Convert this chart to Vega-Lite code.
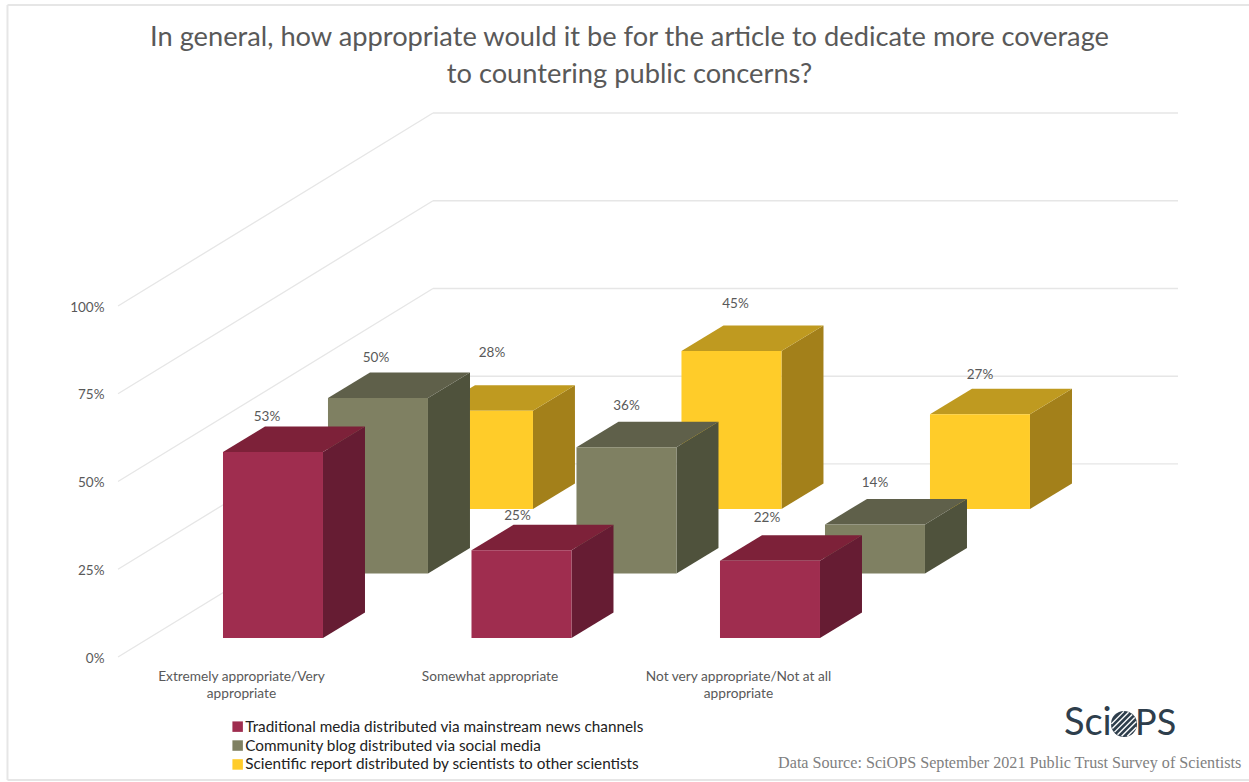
{
  "$schema": "https://vega.github.io/schema/vega-lite/v6.json",
  "width": 1139,
  "height": 562,
  "autosize": "none",
  "padding": {"left": 110, "top": 100, "right": 0, "bottom": 120},
  "background": "#ffffff",
  "title": {
    "text": ["In general, how appropriate would it be for the article to dedicate more coverage", "to countering public concerns?"],
    "font": "Lato",
    "fontSize": 27.25,
    "fontWeight": "normal",
    "color": "#595959",
    "anchor": "middle",
    "frame": "group",
    "dx": -50,
    "offset": -84,
    "lineHeight": 37
  },
  "config": {"view": {"stroke": null}},
  "data": {
    "values": [
      {"category": "Extremely appropriate/Very appropriate", "series": "Traditional media distributed via mainstream news channels", "value": 53},
      {"category": "Somewhat appropriate", "series": "Traditional media distributed via mainstream news channels", "value": 25},
      {"category": "Not very appropriate/Not at all appropriate", "series": "Traditional media distributed via mainstream news channels", "value": 22},
      {"category": "Extremely appropriate/Very appropriate", "series": "Community blog distributed via social media", "value": 50},
      {"category": "Somewhat appropriate", "series": "Community blog distributed via social media", "value": 36},
      {"category": "Not very appropriate/Not at all appropriate", "series": "Community blog distributed via social media", "value": 14},
      {"category": "Extremely appropriate/Very appropriate", "series": "Scientific report distributed by scientists to other scientists", "value": 28},
      {"category": "Somewhat appropriate", "series": "Scientific report distributed by scientists to other scientists", "value": 45},
      {"category": "Not very appropriate/Not at all appropriate", "series": "Scientific report distributed by scientists to other scientists", "value": 27}
    ]
  },
  "encoding": {
    "x": {
      "field": "gx",
      "type": "quantitative",
      "scale": {"domain": [-0.5312, 4.0523], "nice": false, "zero": false},
      "axis": {
        "title": null,
        "values": [0, 1, 2],
        "grid": false,
        "domain": false,
        "ticks": false,
        "labelFont": "Lato",
        "labelFontSize": 13.7,
        "labelColor": "#595959",
        "labelPadding": 7,
        "labelOffset": -1,
        "labelLineHeight": 17.5,
        "labelLimit": 400,
        "labelOverlap": false,
        "labelBound": false,
        "labelFlush": false,
        "labelExpr": "datum.value == 0 ? ['Extremely appropriate/Very', 'appropriate'] : datum.value == 1 ? 'Somewhat appropriate' : ['Not very appropriate/Not at all', 'appropriate']"
      }
    },
    "y": {
      "field": "gy",
      "type": "quantitative",
      "scale": {"domain": [-1.42, 158.7], "nice": false, "zero": false},
      "axis": {
        "title": null,
        "values": [0, 25, 50, 75, 100],
        "grid": false,
        "domain": false,
        "ticks": false,
        "labelFont": "Lato",
        "labelFontSize": 13.5,
        "labelColor": "#595959",
        "labelPadding": 6,
        "labelOffset": 1,
        "labelExpr": "datum.value + '%'"
      }
    }
  },
  "layer": [
    {
      "data": {"values": [{"edge": "top"}, {"edge": "bottom"}]},
      "transform": [
        {"calculate": "-0.9437", "as": "gx"},
        {"calculate": "4.0523", "as": "gx2"},
        {"calculate": "datum.edge == 'top' ? 185.75 : -35.04", "as": "gy"}
      ],
      "mark": {"type": "rule", "color": "#e6e6e6", "strokeWidth": 2},
      "encoding": {"x2": {"field": "gx2"}}
    },
    {
      "data": {"values": [{"edge": "left"}]},
      "transform": [
        {"calculate": "-0.9437", "as": "gx"},
        {"calculate": "185.75", "as": "gy"},
        {"calculate": "-35.04", "as": "gy2"}
      ],
      "mark": {"type": "rule", "color": "#e6e6e6", "strokeWidth": 2},
      "encoding": {"y2": {"field": "gy2"}}
    },
    {
      "data": {"values": [{"level": 0}, {"level": 25}, {"level": 50}, {"level": 75}, {"level": 100}]},
      "layer": [
        {
          "transform": [
            {"calculate": "-0.499", "as": "gx"},
            {"calculate": "0.7686", "as": "gx2"},
            {"calculate": "datum.level", "as": "gy"},
            {"calculate": "datum.level + 55", "as": "gy2"}
          ],
          "mark": {"type": "rule", "color": "#e6e6e6", "strokeWidth": 1.3},
          "encoding": {"x2": {"field": "gx2"}, "y2": {"field": "gy2"}}
        },
        {
          "transform": [
            {"calculate": "0.7686", "as": "gx"},
            {"calculate": "3.7666", "as": "gx2"},
            {"calculate": "datum.level + 55", "as": "gy"}
          ],
          "mark": {"type": "rule", "color": "#e6e6e6", "strokeWidth": 1.3},
          "encoding": {"x2": {"field": "gx2"}}
        }
      ]
    },
    {
      "transform": [
        {"calculate": "indexof(['Extremely appropriate/Very appropriate', 'Somewhat appropriate', 'Not very appropriate/Not at all appropriate'], datum.category)", "as": "i"},
        {"calculate": "indexof(['Traditional media distributed via mainstream news channels', 'Community blog distributed via social media', 'Scientific report distributed by scientists to other scientists'], datum.series)", "as": "d"},
        {"calculate": "datum.i - 0.0765 + 0.4225 * datum.d", "as": "xl"},
        {"calculate": "datum.xl + 0.4024", "as": "xr"},
        {"calculate": "5.41 + 18.38 * datum.d", "as": "base"},
        {"calculate": "datum.base + datum.value", "as": "top"}
      ],
      "layer": [
        {
          "transform": [{"filter": "datum.d == 2"}],
          "layer": [
            {
              "transform": [
                {"calculate": "[0, 1]", "as": "k"}, {"flatten": ["k"]},
                {"calculate": "datum.xr + datum.k * 0.169", "as": "gx"},
                {"calculate": "datum.top + datum.k * 7.26", "as": "gy"},
                {"calculate": "datum.base + datum.k * 7.26", "as": "gy2"}
              ],
              "mark": {"type": "area", "orient": "vertical", "color": "#a3801a"},
              "encoding": {"y2": {"field": "gy2"}, "detail": {"field": "category"}}
            },
            {
              "transform": [
                {"calculate": "[0, 1, 2, 3]", "as": "k"}, {"flatten": ["k"]},
                {"calculate": "[datum.xl, datum.xl + 0.169, datum.xr, datum.xr + 0.169][datum.k]", "as": "gx"},
                {"calculate": "datum.top + (datum.k > 0 ? 7.26 : 0)", "as": "gy"},
                {"calculate": "datum.top + (datum.k == 3 ? 7.26 : 0)", "as": "gy2"}
              ],
              "mark": {"type": "area", "orient": "vertical", "color": "#bf9a20"},
              "encoding": {"y2": {"field": "gy2"}, "detail": {"field": "category"}}
            },
            {
              "transform": [
                {"calculate": "datum.xl", "as": "gx"},
                {"calculate": "datum.xr", "as": "gx2"},
                {"calculate": "datum.top", "as": "gy"},
                {"calculate": "datum.base", "as": "gy2"}
              ],
              "mark": {"type": "rect"},
              "encoding": {
                "x2": {"field": "gx2"},
                "y2": {"field": "gy2"},
                "color": {
                  "field": "series",
                  "type": "nominal",
                  "scale": {
                    "domain": ["Traditional media distributed via mainstream news channels", "Community blog distributed via social media", "Scientific report distributed by scientists to other scientists"],
                    "range": ["#9f2d4f", "#7f8062", "#ffcc29"]
                  },
                  "legend": {
                    "title": null,
                    "orient": "none",
                    "legendX": 120,
                    "legendY": 619,
                    "symbolType": "square",
                    "symbolSize": 110,
                    "symbolStrokeWidth": 0,
                    "labelFont": "Lato",
                    "labelFontSize": 15.3,
                    "labelColor": "#222222",
                    "labelLimit": 600,
                    "labelOffset": 0,
                    "rowPadding": 2.9,
                    "padding": 0
                  }
                }
              }
            }
          ]
        },
        {
          "transform": [{"filter": "datum.d == 1"}],
          "layer": [
            {
              "transform": [
                {"calculate": "[0, 1]", "as": "k"}, {"flatten": ["k"]},
                {"calculate": "datum.xr + datum.k * 0.169", "as": "gx"},
                {"calculate": "datum.top + datum.k * 7.26", "as": "gy"},
                {"calculate": "datum.base + datum.k * 7.26", "as": "gy2"}
              ],
              "mark": {"type": "area", "orient": "vertical", "color": "#4f523c"},
              "encoding": {"y2": {"field": "gy2"}, "detail": {"field": "category"}}
            },
            {
              "transform": [
                {"calculate": "[0, 1, 2, 3]", "as": "k"}, {"flatten": ["k"]},
                {"calculate": "[datum.xl, datum.xl + 0.169, datum.xr, datum.xr + 0.169][datum.k]", "as": "gx"},
                {"calculate": "datum.top + (datum.k > 0 ? 7.26 : 0)", "as": "gy"},
                {"calculate": "datum.top + (datum.k == 3 ? 7.26 : 0)", "as": "gy2"}
              ],
              "mark": {"type": "area", "orient": "vertical", "color": "#5f604a"},
              "encoding": {"y2": {"field": "gy2"}, "detail": {"field": "category"}}
            },
            {
              "transform": [
                {"calculate": "datum.xl", "as": "gx"},
                {"calculate": "datum.xr", "as": "gx2"},
                {"calculate": "datum.top", "as": "gy"},
                {"calculate": "datum.base", "as": "gy2"}
              ],
              "mark": {"type": "rect"},
              "encoding": {
                "x2": {"field": "gx2"},
                "y2": {"field": "gy2"},
                "color": {"field": "series", "type": "nominal"}
              }
            }
          ]
        },
        {
          "transform": [{"filter": "datum.d == 0"}],
          "layer": [
            {
              "transform": [
                {"calculate": "[0, 1]", "as": "k"}, {"flatten": ["k"]},
                {"calculate": "datum.xr + datum.k * 0.169", "as": "gx"},
                {"calculate": "datum.top + datum.k * 7.26", "as": "gy"},
                {"calculate": "datum.base + datum.k * 7.26", "as": "gy2"}
              ],
              "mark": {"type": "area", "orient": "vertical", "color": "#661c33"},
              "encoding": {"y2": {"field": "gy2"}, "detail": {"field": "category"}}
            },
            {
              "transform": [
                {"calculate": "[0, 1, 2, 3]", "as": "k"}, {"flatten": ["k"]},
                {"calculate": "[datum.xl, datum.xl + 0.169, datum.xr, datum.xr + 0.169][datum.k]", "as": "gx"},
                {"calculate": "datum.top + (datum.k > 0 ? 7.26 : 0)", "as": "gy"},
                {"calculate": "datum.top + (datum.k == 3 ? 7.26 : 0)", "as": "gy2"}
              ],
              "mark": {"type": "area", "orient": "vertical", "color": "#7d2139"},
              "encoding": {"y2": {"field": "gy2"}, "detail": {"field": "category"}}
            },
            {
              "transform": [
                {"calculate": "datum.xl", "as": "gx"},
                {"calculate": "datum.xr", "as": "gx2"},
                {"calculate": "datum.top", "as": "gy"},
                {"calculate": "datum.base", "as": "gy2"}
              ],
              "mark": {"type": "rect"},
              "encoding": {
                "x2": {"field": "gx2"},
                "y2": {"field": "gy2"},
                "color": {"field": "series", "type": "nominal"}
              }
            }
          ]
        },
        {
          "transform": [
            {"calculate": "[-6, -4, -3, -2, 0, 0, 9, 4, 0][datum.d * 3 + datum.i]", "as": "nudge"},
            {"calculate": "[35, 34, 43, 40, 41, 41, 58, 47, 39][datum.d * 3 + datum.i]", "as": "lift"},
            {"calculate": "(datum.xl + datum.xr) / 2 + datum.nudge / 248.5", "as": "gx"},
            {"calculate": "datum.top + datum.lift / 3.51", "as": "gy"},
            {"calculate": "datum.value + '%'", "as": "valueLabel"}
          ],
          "mark": {"type": "text", "font": "Lato", "fontSize": 13.5, "color": "#595959", "baseline": "middle", "align": "center"},
          "encoding": {"text": {"field": "valueLabel"}}
        }
      ]
    },
    {
      "data": {"values": [{"note": "Data Source: SciOPS September 2021 Public Trust Survey of Scientists"}]},
      "transform": [
        {"calculate": "4.0209", "as": "gx"},
        {"calculate": "-30.2", "as": "gy"}
      ],
      "mark": {"type": "text", "font": "Liberation Serif", "fontSize": 16.15, "color": "#7f7f7f", "align": "right", "baseline": "middle"},
      "encoding": {"text": {"field": "note"}}
    },
    {
      "data": {"values": [{"word": "Sci"}]},
      "transform": [
        {"calculate": "3.5", "as": "gx"},
        {"calculate": "-19.09", "as": "gy"}
      ],
      "mark": {"type": "text", "font": "Lato", "fontSize": 38, "color": "#2e3e4c", "align": "right", "baseline": "middle"},
      "encoding": {"text": {"field": "word"}}
    },
    {
      "data": {"values": [{"word": "PS"}]},
      "transform": [
        {"calculate": "3.5936", "as": "gx"},
        {"calculate": "-19.09", "as": "gy"}
      ],
      "mark": {"type": "text", "font": "Lato", "fontSize": 36, "color": "#2e3e4c", "align": "left", "baseline": "middle"},
      "encoding": {"text": {"field": "word"}}
    },
    {
      "data": {"values": [{"word": "globe"}]},
      "transform": [
        {"calculate": "3.5493", "as": "gx"},
        {"calculate": "-19.09", "as": "gy"}
      ],
      "mark": {"type": "point", "shape": "circle", "filled": true, "size": 676, "color": "#2e3e4c", "opacity": 1}
    },
    {
      "data": {"values": [{"stripe": -9}, {"stripe": -5}, {"stripe": -1}, {"stripe": 3}, {"stripe": 7}, {"stripe": 11}]},
      "transform": [
        {"calculate": "sqrt(169 - datum.stripe * datum.stripe) - 0.5", "as": "half"},
        {"calculate": "3.5493 + 0.707 * (datum.stripe - datum.half) / 248.5", "as": "gx"},
        {"calculate": "3.5493 + 0.707 * (datum.stripe + datum.half) / 248.5", "as": "gx2"},
        {"calculate": "-19.09 + 0.707 * (-datum.stripe - datum.half) / 3.51", "as": "gy"},
        {"calculate": "-19.09 + 0.707 * (-datum.stripe + datum.half) / 3.51", "as": "gy2"}
      ],
      "mark": {"type": "rule", "color": "#ffffff", "strokeWidth": 1.4},
      "encoding": {"x2": {"field": "gx2"}, "y2": {"field": "gy2"}}
    }
  ]
}
